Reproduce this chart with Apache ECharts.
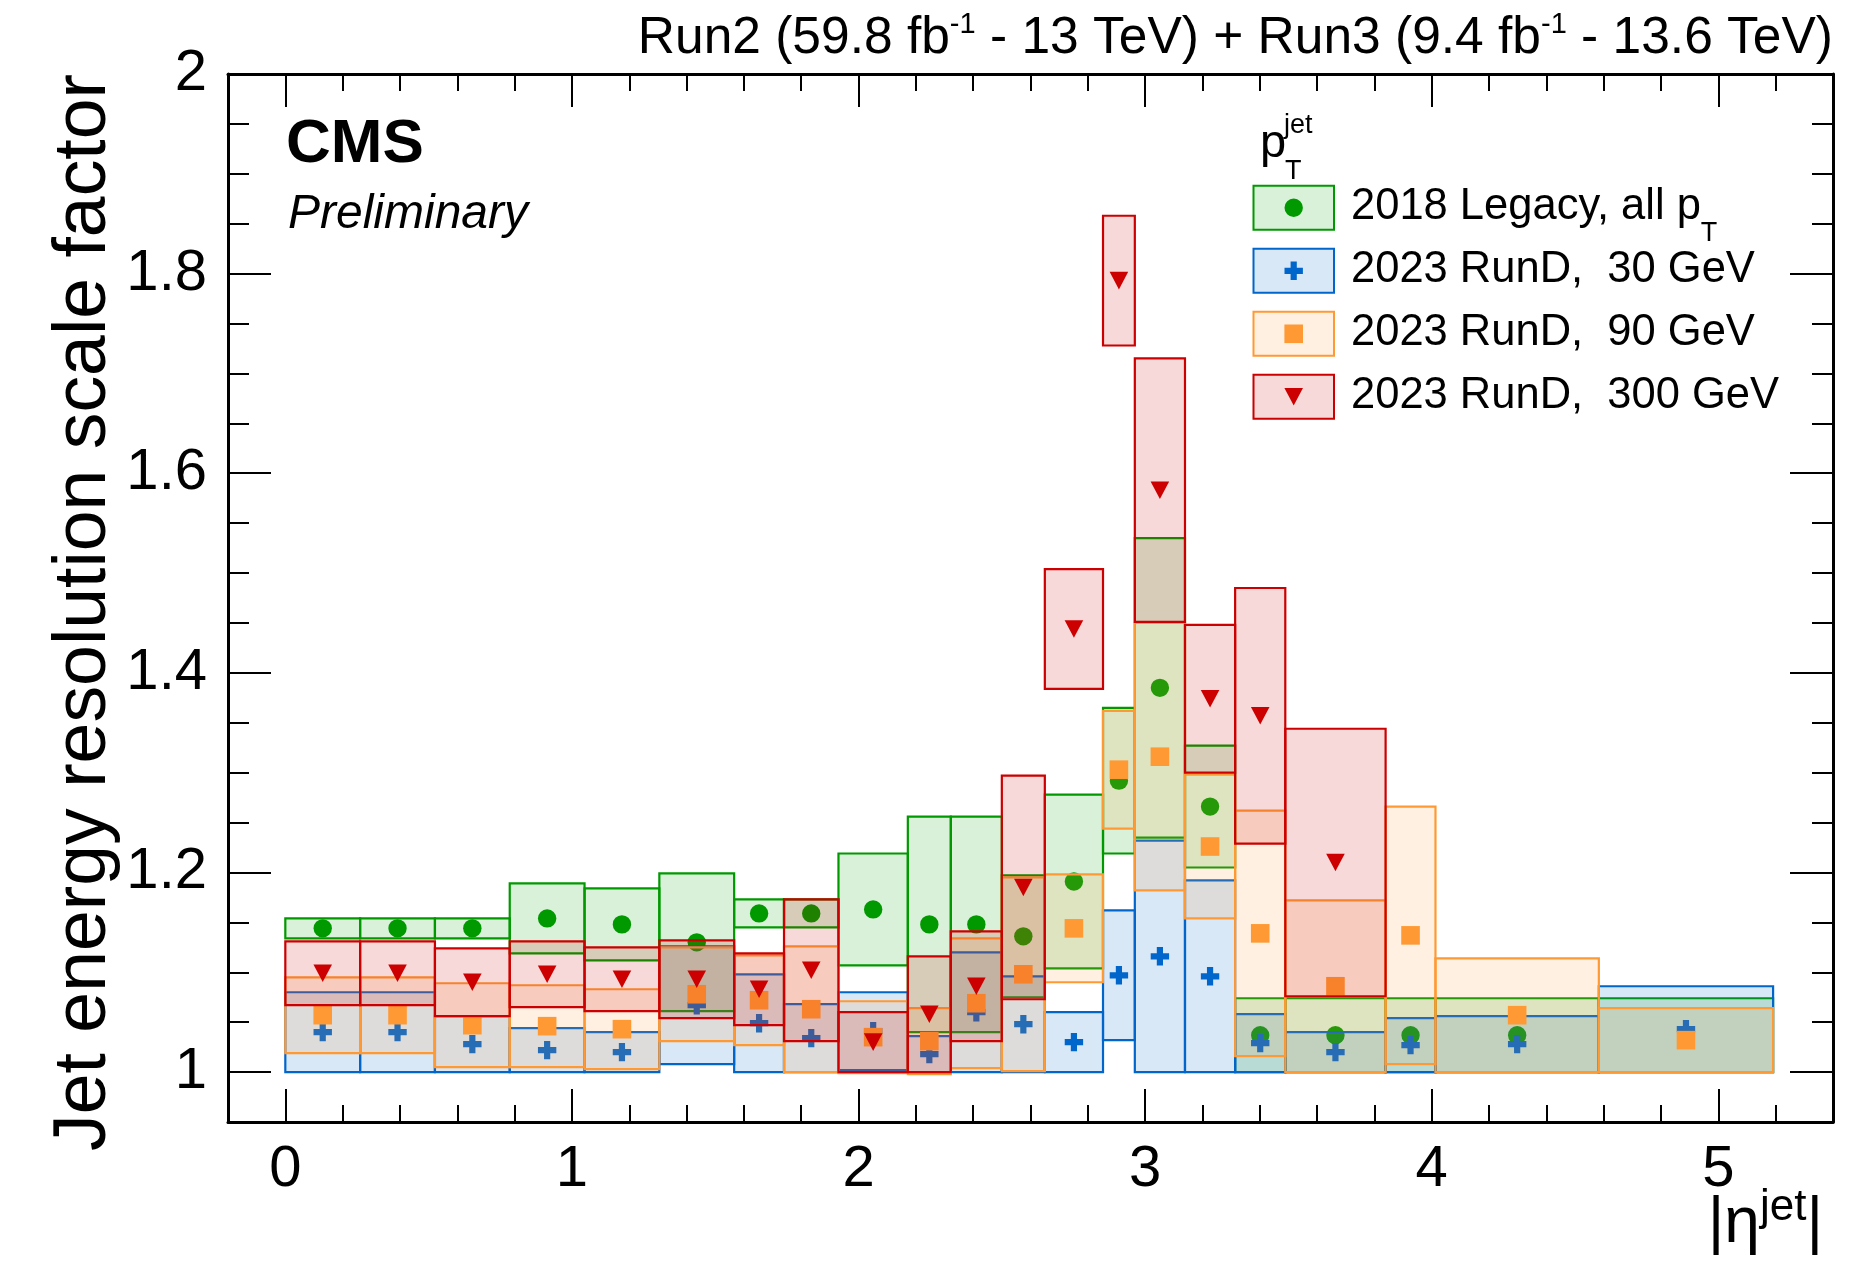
<!DOCTYPE html>
<html>
<head>
<meta charset="utf-8">
<script src="https://cdn.jsdelivr.net/npm/echarts@6/dist/echarts.min.js"></script>
<style>
  html, body { margin: 0; padding: 0; background: #ffffff; }
  #chart { width: 1865px; height: 1273px; }
</style>
</head>
<body>
<div id="chart"></div>
<script>
// |eta| bin edges shared by all measurements
const etaEdges = [0, 0.261, 0.522, 0.783, 1.044, 1.305, 1.566, 1.74, 1.93, 2.172, 2.322,
                  2.5, 2.65, 2.853, 2.964, 3.139, 3.314, 3.489, 3.839, 4.013, 4.583, 5.191];

// Axis tick labels
const xTickLabels = [0, 1, 2, 3, 4, 5];
const yTickLabels = [1, 1.2, 1.4, 1.6, 1.8, 2];

// 2018 Legacy, all pT: scale factor and total uncertainty per bin
const legacySF  = [1.144, 1.144, 1.144, 1.154, 1.148, 1.130, 1.159, 1.159, 1.163, 1.148, 1.148,
                   1.136, 1.191, 1.292, 1.385, 1.266, 1.037, 1.037, 1.037, 1.037, 1.037];
const legacyUnc = [0.010, 0.010, 0.010, 0.035, 0.036, 0.069, 0.014, 0.014, 0.056, 0.108, 0.108,
                   0.061, 0.087, 0.073, 0.150, 0.061, 0.037, 0.037, 0.037, 0.037, 0.037];
// bins where the legacy point marker is drawn (1) or only its band (0)
const legacyPointShown = [1, 1, 1, 1, 1, 1, 1, 1, 1, 1, 1, 1, 1, 1, 1, 1, 1, 1, 1, 1, 0];

// 2023 RunD, pT = 30 GeV
const runD30SF  = [1.040, 1.040, 1.028, 1.022, 1.020, 1.067, 1.049, 1.034, 1.041, 1.018, 1.060,
                   1.048, 1.030, 1.097, 1.116, 1.096, 1.029, 1.020, 1.027, 1.028, 1.043];
const runD30Unc = [0.040, 0.040, 0.028, 0.022, 0.020, 0.059, 0.049, 0.034, 0.039, 0.018, 0.060,
                   0.048, 0.030, 0.065, 0.116, 0.096, 0.029, 0.020, 0.027, 0.028, 0.043];

// 2023 RunD, pT = 90 GeV
const runD90SF  = [1.057, 1.057, 1.047, 1.046, 1.043, 1.078, 1.072, 1.063, 1.035, 1.031, 1.069,
                   1.098, 1.144, 1.303, 1.316, 1.226, 1.139, 1.086, 1.137, 1.057, 1.032];
const runD90Unc = [0.038, 0.038, 0.042, 0.041, 0.040, 0.047, 0.045, 0.063, 0.036, 0.033, 0.065,
                   0.097, 0.054, 0.059, 0.134, 0.072, 0.123, 0.086, 0.129, 0.057, 0.032];

// 2023 RunD, pT = 300 GeV (not available in the most forward bins)
const runD300SF  = [1.099, 1.099, 1.090, 1.098, 1.093, 1.093, 1.083, 1.102, 1.030, 1.058, 1.086,
                    1.185, 1.444, 1.793, 1.583, 1.374, 1.357, 1.210, null, null, null];
const runD300Unc = [0.032, 0.032, 0.034, 0.033, 0.032, 0.039, 0.036, 0.071, 0.030, 0.058, 0.055,
                    0.112, 0.060, 0.065, 0.132, 0.074, 0.128, 0.134, null, null, null];

const FONT = '"Liberation Sans", Arial, Helvetica, sans-serif';

const STYLES = {
  legacy: { color: '#009900', fill: 'rgba(0,153,0,0.15)', marker: 'circle' },
  pt30:   { color: '#0066cc', fill: 'rgba(0,102,204,0.15)', marker: 'plus' },
  pt90:   { color: '#ff9933', fill: 'rgba(255,153,51,0.15)', marker: 'square' },
  pt300:  { color: '#cc0000', fill: 'rgba(204,0,0,0.15)', marker: 'triangle' }
};

// Marker glyphs used both in the plot and in the legend
function markerShape(kind, cx, cy, color) {
  if (kind === 'circle') {
    return { type: 'circle', shape: { cx: cx, cy: cy, r: 9.2 }, style: { fill: color } };
  }
  if (kind === 'square') {
    return { type: 'rect', shape: { x: cx - 9.3, y: cy - 9.3, width: 18.6, height: 18.6 }, style: { fill: color } };
  }
  if (kind === 'triangle') {
    return { type: 'polygon', shape: { points: [[cx - 9.3, cy - 8.8], [cx + 9.3, cy - 8.8], [cx, cy + 8.8]] }, style: { fill: color } };
  }
  const a = 9.2, t = 3.1;
  return {
    type: 'polygon',
    shape: { points: [[cx - t, cy - a], [cx + t, cy - a], [cx + t, cy - t], [cx + a, cy - t], [cx + a, cy + t],
                      [cx + t, cy + t], [cx + t, cy + a], [cx - t, cy + a], [cx - t, cy + t], [cx - a, cy + t],
                      [cx - a, cy - t], [cx - t, cy - t]] },
    style: { fill: color }
  };
}

function binItems(sf, unc, shown) {
  const items = [];
  for (let i = 0; i < sf.length; i++) {
    if (sf[i] == null) continue;
    items.push([etaEdges[i], etaEdges[i + 1], sf[i], unc[i], shown ? shown[i] : 1]);
  }
  return items;
}

// One band (box = SF +/- uncertainty over the bin) plus a marker at the bin centre
function bandSeries(name, sf, unc, shown, st) {
  return {
    type: 'custom',
    name: name,
    xAxisIndex: 0,
    yAxisIndex: 0,
    silent: true,
    clip: true,
    data: binItems(sf, unc, shown),
    renderItem: function (params, api) {
      const x0 = api.value(0), x1 = api.value(1), v = api.value(2), u = api.value(3), show = api.value(4);
      const tl = api.coord([x0, v + u]);
      const br = api.coord([x1, v - u]);
      const children = [{
        type: 'rect',
        shape: { x: tl[0], y: tl[1], width: br[0] - tl[0], height: br[1] - tl[1] },
        style: { fill: st.fill, stroke: st.color, lineWidth: 2.2 }
      }];
      if (show) {
        const c = api.coord([(x0 + x1) / 2, v]);
        children.push(markerShape(st.marker, c[0], c[1], st.color));
      }
      return { type: 'group', children: children };
    }
  };
}

// Text placed by its baseline
function text(x, baseline, str, size, extra) {
  return {
    type: 'text',
    x: x,
    y: baseline - 0.3465 * size,
    silent: true,
    style: Object.assign({
      text: str, fontSize: size, fontFamily: FONT, fill: '#000000',
      align: 'left', verticalAlign: 'middle'
    }, extra || {})
  };
}

// Legend: boxes with markers, header and entries
const legendEntries = [
  { st: STYLES.legacy, label: '2018 Legacy, all p{sub|T}' },
  { st: STYLES.pt30,   label: '2023 RunD,  30 GeV' },
  { st: STYLES.pt90,   label: '2023 RunD,  90 GeV' },
  { st: STYLES.pt300,  label: '2023 RunD,  300 GeV' }
];
const legendGraphics = [];
legendEntries.forEach(function (e, i) {
  const cy = 207.8 + i * 63;
  legendGraphics.push({
    type: 'rect', silent: true,
    shape: { x: 1253.5, y: cy - 22, width: 80.5, height: 44 },
    style: { fill: e.st.fill, stroke: e.st.color, lineWidth: 2 }
  });
  legendGraphics.push(markerShape(e.st.marker, 1293.7, cy, e.st.color));
  legendGraphics.push(text(1351, cy + 14.5, e.label, 43.5, {
    rich: { sub: { fontSize: 27, fontFamily: FONT, fill: '#000', verticalAlign: 'top', padding: [53, 0, 0, 0] } }
  }));
});
legendGraphics.push(text(1260, 160, 'p', 47));
legendGraphics.push(text(1284, 135, 'jet', 27));
legendGraphics.push(text(1285, 181, 'T', 27));

const chart = echarts.init(document.getElementById('chart'), null, { renderer: 'canvas', width: 1865, height: 1273 });

const frameLine = { show: true, onZero: false, lineStyle: { color: '#000000', width: 3 } };
const noLine = { show: false, onZero: false };
const tickStyle = { color: '#000000', width: 2 };

const option = {
  animation: false,
  backgroundColor: '#ffffff',
  grid: { left: 228, right: 32, top: 74, bottom: 151, containLabel: false },
  xAxis: [
    { type: 'value', min: -0.2, max: 5.4, position: 'bottom', axisLine: frameLine,
      axisTick: { show: true, inside: true, length: 33, customValues: xTickLabels, lineStyle: tickStyle },
      axisLabel: { show: true, customValues: xTickLabels, margin: 19, color: '#000', fontSize: 58, fontFamily: FONT },
      splitLine: { show: false } },
    { type: 'value', min: -0.2, max: 5.4, interval: 0.2, position: 'bottom', axisLine: noLine,
      axisTick: { show: true, inside: true, length: 17, lineStyle: tickStyle },
      axisLabel: { show: false }, splitLine: { show: false } },
    { type: 'value', min: -0.2, max: 5.4, position: 'top', axisLine: frameLine,
      axisTick: { show: true, inside: true, length: 33, customValues: xTickLabels, lineStyle: tickStyle },
      axisLabel: { show: false }, splitLine: { show: false } },
    { type: 'value', min: -0.2, max: 5.4, interval: 0.2, position: 'top', axisLine: noLine,
      axisTick: { show: true, inside: true, length: 17, lineStyle: tickStyle },
      axisLabel: { show: false }, splitLine: { show: false } }
  ],
  yAxis: [
    { type: 'value', min: 0.95, max: 2.0, position: 'left', axisLine: frameLine,
      axisTick: { show: true, inside: true, length: 43, customValues: yTickLabels, lineStyle: tickStyle },
      axisLabel: { show: true, customValues: yTickLabels, margin: 21, color: '#000', fontSize: 58, fontFamily: FONT },
      splitLine: { show: false } },
    { type: 'value', min: 0.95, max: 2.0, interval: 0.05, position: 'left', axisLine: noLine,
      axisTick: { show: true, inside: true, length: 21, lineStyle: tickStyle },
      axisLabel: { show: false }, splitLine: { show: false } },
    { type: 'value', min: 0.95, max: 2.0, position: 'right', axisLine: frameLine,
      axisTick: { show: true, inside: true, length: 43, customValues: yTickLabels, lineStyle: tickStyle },
      axisLabel: { show: false }, splitLine: { show: false } },
    { type: 'value', min: 0.95, max: 2.0, interval: 0.05, position: 'right', axisLine: noLine,
      axisTick: { show: true, inside: true, length: 21, lineStyle: tickStyle },
      axisLabel: { show: false }, splitLine: { show: false } }
  ],
  series: [
    bandSeries('2018 Legacy, all pT', legacySF, legacyUnc, legacyPointShown, STYLES.legacy),
    bandSeries('2023 RunD, 30 GeV', runD30SF, runD30Unc, null, STYLES.pt30),
    bandSeries('2023 RunD, 90 GeV', runD90SF, runD90Unc, null, STYLES.pt90),
    bandSeries('2023 RunD, 300 GeV', runD300SF, runD300Unc, null, STYLES.pt300)
  ],
  graphic: [
    // luminosity / energy label
    text(1833, 57, 'Run2 (59.8 fb{sup|-1} - 13 TeV) + Run3 (9.4 fb{sup|-1} - 13.6 TeV)', 51.5, {
      align: 'right',
      rich: { sup: { fontSize: 29, fontFamily: FONT, fill: '#000', verticalAlign: 'bottom', padding: [0, 0, 29, 0] } }
    }),
    text(286, 166.5, 'CMS', 62, { fontWeight: 'bold' }),
    text(288, 231, 'Preliminary', 48, { fontStyle: 'italic' }),
    // y-axis title, reading upwards, ending at the top of the frame
    {
      type: 'text', x: 85, y: 74, rotation: Math.PI / 2, silent: true,
      style: { text: 'Jet energy resolution scale factor', fontSize: 73.4, fontFamily: FONT, fill: '#000',
               align: 'right', verticalAlign: 'middle' }
    },
    // x-axis title
    text(1823, 1247, '|η{sup|jet}|', 64, {
      align: 'right',
      rich: { sup: { fontSize: 44, fontFamily: FONT, fill: '#000', verticalAlign: 'bottom', padding: [0, 0, 34, 0] } }
    })
  ].concat(legendGraphics)
};

chart.setOption(option);
</script>
</body>
</html>
